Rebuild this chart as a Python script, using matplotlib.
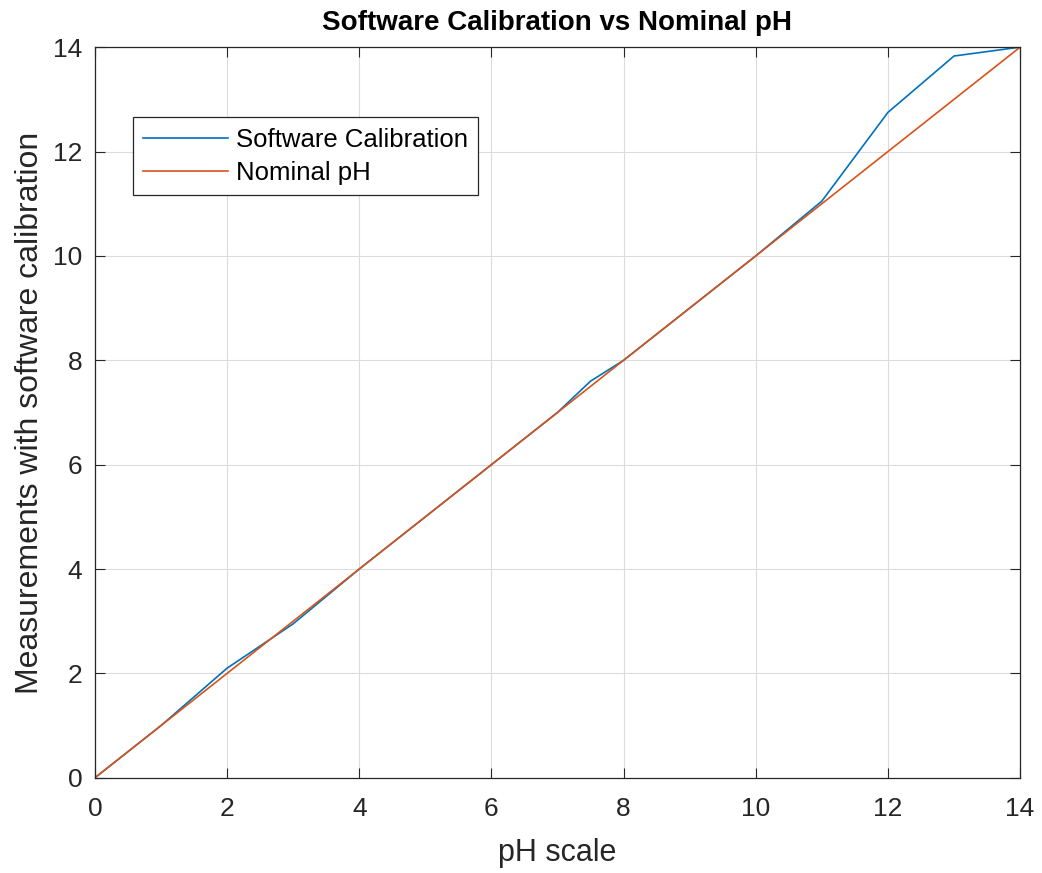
import matplotlib
matplotlib.use('Agg')
import matplotlib.pyplot as plt

# pH points (nominal) and readings with software calibration
ph_nominal = [0, 1, 2, 3, 4, 5, 6, 7, 7.5, 8, 9, 10, 11, 12, 13, 14]
ph_software = [0, 1.0, 2.1, 2.95, 4, 5, 6, 7, 7.6, 8, 9, 10, 11.05, 12.75, 13.83, 14]
ticks = [0, 2, 4, 6, 8, 10, 12, 14]

plt.rcParams['font.family'] = ['Liberation Sans', 'DejaVu Sans']

fig = plt.figure(figsize=(10.42, 8.73), dpi=100)
ax = fig.add_axes([0.091, 0.109, 0.888, 0.837])

ax.plot(ph_nominal, ph_software, color='#0072BD', lw=1.2, label='Software Calibration')
ax.plot(ph_nominal, ph_nominal, color='#D95319', lw=1.2, label='Nominal pH')

ax.set_xlim(0, 14)
ax.set_ylim(0, 14)
ax.set_xticks(ticks)
ax.set_yticks(ticks)
ax.grid(True, color='#dcdcdc', lw=0.8)
ax.set_axisbelow(True)
ax.tick_params(direction='in', top=True, right=True, labelsize=19, length=7,
               color='#262626', labelcolor='#262626')
ax.tick_params(axis='x', pad=14)
ax.tick_params(axis='y', pad=9)
for s in ax.spines.values():
    s.set_color('#262626')
    s.set_linewidth(0.9)

ax.set_xlabel('pH scale', fontsize=22, color='#262626', labelpad=12)
ax.set_ylabel('Measurements with software calibration', fontsize=23, color='#262626', labelpad=6)
ax.set_title('Software Calibration vs Nominal pH', fontsize=20, fontweight='bold', pad=12)

leg = ax.legend(loc='upper left', bbox_to_anchor=(0.041, 0.904), fontsize=18.5,
                frameon=True, fancybox=False, edgecolor='#262626', framealpha=1,
                handlelength=3.3, handletextpad=0.3, borderpad=0.4, labelspacing=0.35,
                borderaxespad=0)
leg.get_frame().set_linewidth(0.9)

fig.savefig('out.png', dpi=100)
